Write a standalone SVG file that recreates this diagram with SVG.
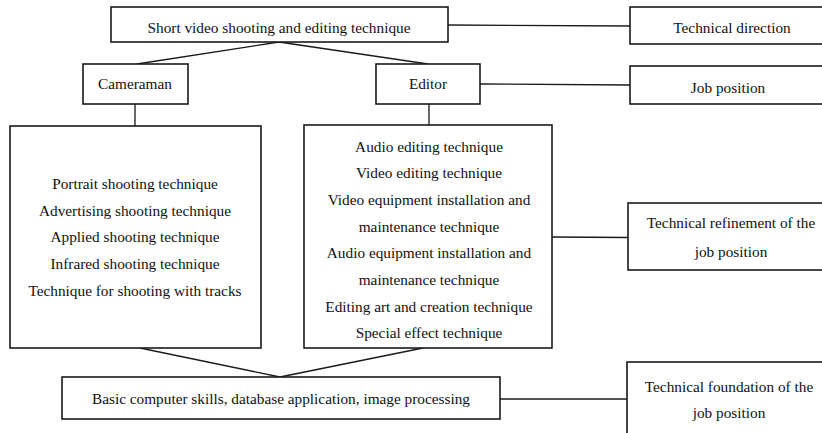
<svg xmlns="http://www.w3.org/2000/svg" width="822" height="433" viewBox="0 0 822 433">
<style>
.box{fill:#fff;stroke:#1a1a1a;stroke-width:1.6}
.ln{fill:none;stroke:#1a1a1a;stroke-width:1.3}
.t{font-family:'Liberation Serif','DejaVu Serif',serif;font-size:15.3px;fill:#111;text-anchor:middle}
</style>
<rect width="822" height="433" fill="#fff"/>
<g id="connectors">
<line class="ln" x1="279" y1="42" x2="137" y2="64"/>
<line class="ln" x1="279" y1="42" x2="428" y2="64"/>
<line class="ln" x1="135" y1="104" x2="135" y2="126"/>
<line class="ln" x1="429" y1="104" x2="429" y2="125"/>
<line class="ln" x1="448" y1="25" x2="630" y2="26"/>
<line class="ln" x1="480" y1="84" x2="630" y2="85"/>
<line class="ln" x1="552" y1="237" x2="628" y2="237.5"/>
<line class="ln" x1="140" y1="348" x2="280" y2="377"/>
<line class="ln" x1="423" y1="348" x2="280" y2="377"/>
<line class="ln" x1="500" y1="399" x2="628" y2="399"/>
</g>
<g class="t" font-family="Liberation Serif, DejaVu Serif, serif">
<g id="n-top"><rect class="box" x="111" y="7" width="337" height="35"/><text x="279" y="33">Short video shooting and editing technique</text></g>
<g id="n-cameraman"><rect class="box" x="83" y="64" width="105" height="40"/><text x="135" y="89">Cameraman</text></g>
<g id="n-editor"><rect class="box" x="376" y="64" width="104" height="40"/><text x="428" y="89">Editor</text></g>
<g id="n-cam-detail"><rect class="box" x="10" y="126" width="251" height="222"/>
<text x="135" y="189">Portrait shooting technique</text>
<text x="135" y="216">Advertising shooting technique</text>
<text x="135" y="242">Applied shooting technique</text>
<text x="135" y="269">Infrared shooting technique</text>
<text x="135" y="296">Technique for shooting with tracks</text>
</g>
<g id="n-ed-detail"><rect class="box" x="304" y="125" width="248" height="223"/>
<text x="429" y="152">Audio editing technique</text>
<text x="429" y="178">Video editing technique</text>
<text x="429" y="205">Video equipment installation and</text>
<text x="429" y="232">maintenance technique</text>
<text x="429" y="258">Audio equipment installation and</text>
<text x="429" y="285">maintenance technique</text>
<text x="429" y="312">Editing art and creation technique</text>
<text x="429" y="338">Special effect technique</text>
</g>
<g id="n-basic"><rect class="box" x="62" y="377" width="438" height="42"/><text x="281" y="404">Basic computer skills, database application, image processing</text></g>
<g id="n-dir"><rect class="box" x="630" y="7" width="200" height="37"/><text x="732" y="33">Technical direction</text></g>
<g id="n-job"><rect class="box" x="630" y="66" width="200" height="38"/><text x="728" y="93">Job position</text></g>
<g id="n-refine"><rect class="box" x="628" y="203" width="202" height="67"/>
<text x="731" y="228">Technical refinement of the</text>
<text x="731" y="257">job position</text>
</g>
<g id="n-found"><rect class="box" x="627" y="362" width="203" height="80"/>
<text x="729" y="392">Technical foundation of the</text>
<text x="729" y="418">job position</text>
</g>
</g>
</svg>
